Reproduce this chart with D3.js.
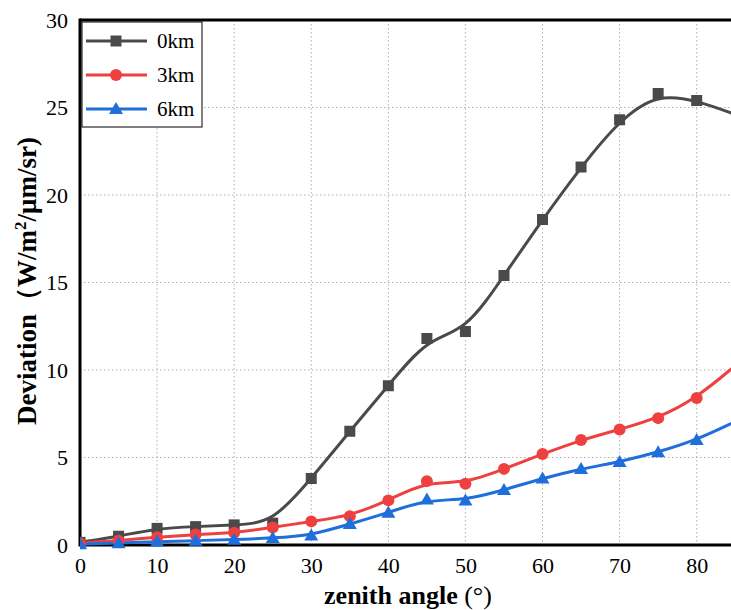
<!DOCTYPE html>
<meta charset="utf-8">
<script src="https://d3js.org/d3.v7.min.js"></script>
<style>
body { margin: 0; background: #fff; }
svg text { font-family: "Liberation Serif", "Times New Roman", serif; }
.tick text { font-size: 22px; fill: #000; }
.grid line { stroke: #b0b0b0; stroke-dasharray: 1.5 2.5; stroke-width: 1; }
</style>
<body>
<script>

var angles = [0, 5, 10, 15, 20, 25, 30, 35, 40, 45, 50, 55, 60, 65, 70, 75, 80, 85]
var dev0km = [0.15, 0.5, 0.95, 1.05, 1.15, 1.25, 3.8, 6.5, 9.1, 11.8, 12.2, 15.4, 18.6, 21.6, 24.3, 25.8, 25.4, 24.6]
var dev3km = [0.1, 0.25, 0.45, 0.6, 0.7, 1.0, 1.35, 1.65, 2.55, 3.65, 3.5, 4.35, 5.2, 6.0, 6.6, 7.25, 8.4, 10.25]
var dev6km = [0.05, 0.1, 0.2, 0.25, 0.3, 0.4, 0.55, 1.2, 1.85, 2.6, 2.55, 3.15, 3.8, 4.35, 4.75, 5.3, 6.0, 7.05]
var seriesNames = ["0km", "3km", "6km"]
var xTicks = [0, 10, 20, 30, 40, 50, 60, 70, 80]
var yTicks = [0, 5, 10, 15, 20, 25, 30]

var width = 731
var height = 610
var pLeft = 80, pTop = 20, pRight = 731, pBottom = 545

var svg = d3.select("body").append("svg")
            .attr("width", width)
            .attr("height", height)

var x = d3.scaleLinear().domain([0, 84.45]).range([pLeft, pRight])
var y = d3.scaleLinear().domain([0, 30]).range([pBottom, pTop])

svg.append("defs").append("clipPath").attr("id", "plotclip")
   .append("rect").attr("x", pLeft).attr("y", pTop - 10).attr("width", pRight - pLeft).attr("height", pBottom - pTop + 20)

// grid
svg.append("g").attr("class", "grid")
   .selectAll("line").data(xTicks.slice(1)).enter().append("line")
   .attr("x1", d => x(d)).attr("x2", d => x(d)).attr("y1", pTop).attr("y2", pBottom)
svg.append("g").attr("class", "grid")
   .selectAll("line").data(yTicks.slice(1, -1)).enter().append("line")
   .attr("x1", pLeft).attr("x2", pRight).attr("y1", d => y(d)).attr("y2", d => y(d))

// axes
var xAxis = svg.append("g")
   .attr("transform", "translate(0," + pBottom + ")")
   .call(d3.axisBottom(x).tickValues(xTicks).tickSize(0).tickPadding(12))
xAxis.select(".domain").remove()

var yAxis = svg.append("g")
   .attr("transform", "translate(" + pLeft + ",0)")
   .call(d3.axisLeft(y).tickValues(yTicks).tickSize(0).tickPadding(12))
yAxis.select(".domain").remove()

// frame
svg.append("line").attr("x1", pLeft).attr("x2", pRight).attr("y1", pBottom).attr("y2", pBottom)
   .style("stroke", "#000").style("stroke-width", 3)
svg.append("line").attr("x1", pLeft).attr("x2", pRight).attr("y1", pTop).attr("y2", pTop)
   .style("stroke", "#000").style("stroke-width", 3)
svg.append("line").attr("x1", pLeft).attr("x2", pLeft).attr("y1", pTop - 1.5).attr("y2", pBottom + 1.5)
   .style("stroke", "#000").style("stroke-width", 3)

// axis titles
var xt = svg.append("text")
   .attr("x", 408).attr("y", 604)
   .style("text-anchor", "middle")
   .style("font-size", "26px")
xt.append("tspan").style("font-weight", "bold").text("zenith angle ")
xt.append("tspan").text("(°)")

var yt = svg.append("text")
   .attr("transform", "translate(36," + 281 + ") rotate(-90)")
   .style("text-anchor", "middle")
   .style("font-size", "27px")
   .style("font-weight", "bold")
yt.append("tspan").text("Deviation（W/m")
yt.append("tspan").attr("dy", -10).style("font-size", "17px").text("2")
yt.append("tspan").attr("dy", 10).text("/μm/sr)")

var colors = ["#4a4a4a", "#ef4040", "#1e6fdc"]
var data = [dev0km, dev3km, dev6km]

// smoothed curve through the markers
var line = d3.line()
   .x((d, i) => x(angles[i]))
   .y(d => y(d))
   .curve(d3.curveBasis)

var plot = svg.append("g").attr("clip-path", "url(#plotclip)")

function marker(g, k, cx, cy) {
  if (k == 0) {
    g.append("rect").attr("x", cx - 5.5).attr("y", cy - 5.5).attr("width", 11).attr("height", 11).attr("fill", colors[k])
  } else if (k == 1) {
    g.append("circle").attr("cx", cx).attr("cy", cy).attr("r", 6).attr("fill", colors[k])
  } else {
    g.append("path").attr("d", "M" + cx + "," + (cy - 7) + " L" + (cx + 7) + "," + (cy + 5) + " L" + (cx - 7) + "," + (cy + 5) + " Z").attr("fill", colors[k])
  }
}

data.forEach(function(vals, k) {
  plot.append("path").attr("d", line(vals))
     .attr("fill", "none").attr("stroke", colors[k]).attr("stroke-width", 3)
})
data.forEach(function(vals, k) {
  var g = plot.append("g")
  vals.forEach(function(v, i) {
    // the last sample sits just past the visible x range
    if (angles[i] <= x.domain()[1]) marker(g, k, x(angles[i]), y(v))
  })
})

// legend
var lg = svg.append("g")
lg.append("rect").attr("x", 82).attr("y", 22).attr("width", 120).attr("height", 105)
  .attr("fill", "#fff").attr("stroke", "#000").attr("stroke-width", 1)
seriesNames.forEach(function(name, k) {
  var ly = 41 + k * 34
  lg.append("line").attr("x1", 86).attr("x2", 147).attr("y1", ly).attr("y2", ly)
    .attr("stroke", colors[k]).attr("stroke-width", 3)
  marker(lg, k, 116, ly)
  lg.append("text").attr("x", 157).attr("y", ly + 7).style("font-size", "21px").text(name)
})

</script>
</body>
